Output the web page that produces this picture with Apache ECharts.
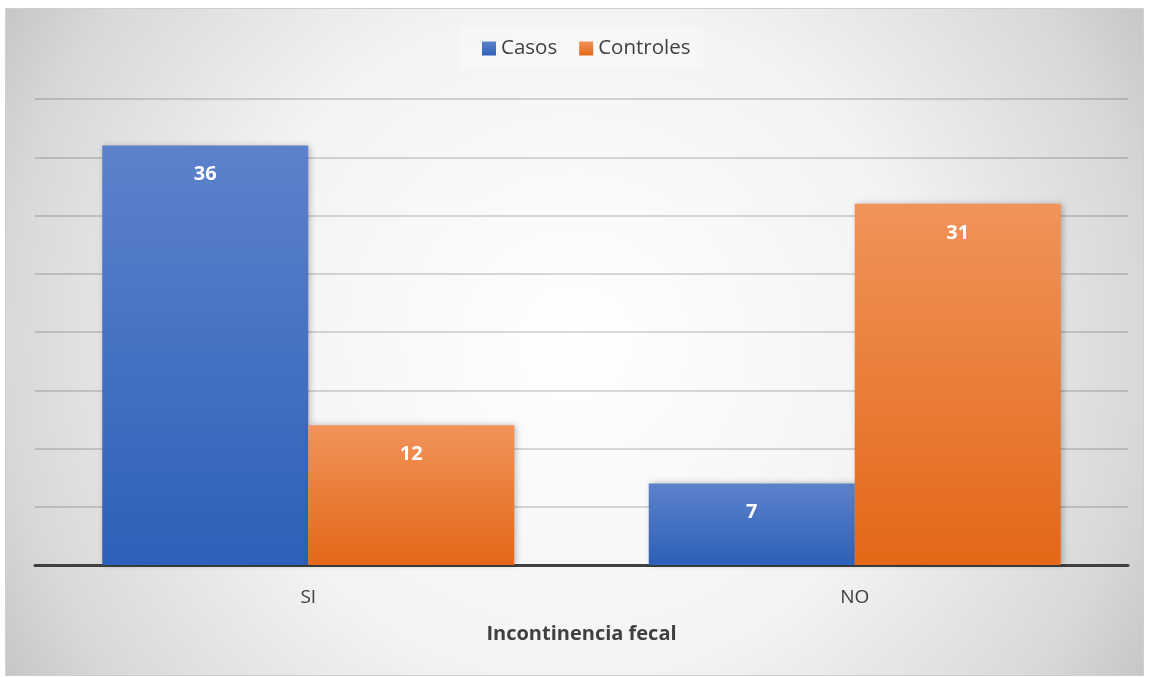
<!DOCTYPE html>
<html>
<head>
<meta charset="utf-8">
<script src="https://cdn.jsdelivr.net/npm/echarts@6/dist/echarts.min.js"></script>
<style>
  html, body { margin: 0; padding: 0; background: #ffffff; }
  #chart { width: 1150px; height: 677px; }
</style>
</head>
<body>
<div id="chart"></div>
<script>
// Categories and counts per group
const categories = ['SI', 'NO'];
const casos = [36, 7];
const controles = [12, 31];
const axisTitle = 'Incontinencia fecal';

const FONT = '"Open Sans", Lato, sans-serif';

function vGrad(top, bottom) {
  return new echarts.graphic.LinearGradient(0, 0, 0, 1, [
    { offset: 0, color: top },
    { offset: 1, color: bottom }
  ]);
}

const chart = echarts.init(document.getElementById('chart'), null, { renderer: 'canvas' });

const labelCfg = {
  show: true,
  position: 'insideTop',
  distance: 19,
  color: '#ffffff',
  fontFamily: FONT,
  fontWeight: 'bold',
  fontSize: 20
};

chart.setOption({
  animation: false,
  graphic: [
    {
      type: 'rect',
      z: -10,
      silent: true,
      shape: { x: 5.5, y: 8.5, width: 1138, height: 667 },
      style: {
        fill: new echarts.graphic.RadialGradient(0.5, 0.5, 1.02, [
          { offset: 0, color: '#ffffff' },
          { offset: 0.5, color: '#f3f3f3' },
          { offset: 0.84, color: '#d8d8d8' },
          { offset: 1, color: '#c2c2c2' }
        ]),
        stroke: '#cfcfcf',
        lineWidth: 1
      }
    },
    {
      type: 'rect',
      z: -5,
      silent: true,
      shape: { x: 460, y: 27, width: 243, height: 41 },
      style: { fill: 'rgba(255,255,255,0.3)' }
    }
  ],
  legend: {
    top: 33,
    left: 477,
    itemWidth: 14,
    itemHeight: 14,
    itemGap: 22,
    icon: 'rect',
    textStyle: { fontFamily: FONT, fontSize: 20.5, color: '#404040' },
    data: ['Casos', 'Controles']
  },
  grid: { left: 35, right: 22, top: 99, bottom: 112 },
  xAxis: {
    type: 'category',
    data: categories,
    name: axisTitle,
    nameLocation: 'middle',
    nameGap: 59,
    nameTextStyle: { fontFamily: FONT, fontSize: 20, fontWeight: 'bold', color: '#404040' },
    axisLine: { lineStyle: { color: '#404040', width: 3 } },
    axisTick: { show: false },
    axisLabel: { fontFamily: FONT, fontSize: 19, color: '#404040', margin: 23 }
  },
  yAxis: {
    type: 'value',
    min: 0,
    max: 40,
    interval: 5,
    axisLine: { show: false },
    axisTick: { show: false },
    axisLabel: { show: false },
    splitLine: { lineStyle: { color: 'rgba(0,0,0,0.2)', width: 1.5 } }
  },
  series: [
    {
      name: 'Casos',
      type: 'bar',
      data: casos,
      barWidth: 206,
      barGap: '0%',
      itemStyle: {
        color: vGrad('#5d82cb', '#2d60b9'),
        shadowColor: 'rgba(0,0,0,0.25)',
        shadowBlur: 6,
        shadowOffsetX: 2
      },
      label: labelCfg
    },
    {
      name: 'Controles',
      type: 'bar',
      data: controles,
      barWidth: 206,
      barGap: '0%',
      itemStyle: {
        color: vGrad('#f1935a', '#e36817'),
        shadowColor: 'rgba(0,0,0,0.25)',
        shadowBlur: 6,
        shadowOffsetX: 2
      },
      label: labelCfg
    }
  ]
});
</script>
</body>
</html>
